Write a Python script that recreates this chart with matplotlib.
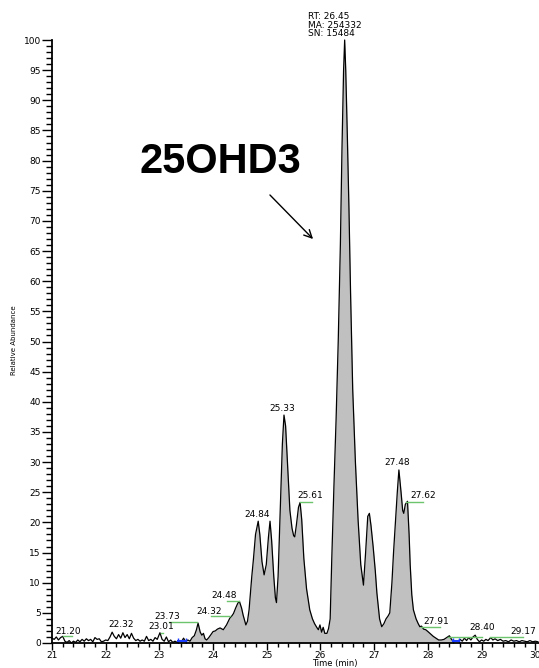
import numpy as np
import matplotlib
matplotlib.use("Agg")
import matplotlib.pyplot as plt
from matplotlib.ticker import MultipleLocator

# --------------------------------------------
# chromatogram trace (time in min, relative abundance in %)
# --------------------------------------------
time_min = [
    21.00, 21.04, 21.08, 21.12, 21.16, 21.20, 21.24, 21.28, 21.32, 21.36,
    21.40, 21.44, 21.48, 21.52, 21.56, 21.60, 21.64, 21.68, 21.72, 21.76,
    21.80, 21.84, 21.88, 21.92, 21.96, 22.00, 22.04, 22.08, 22.12, 22.16,
    22.20, 22.24, 22.28, 22.32, 22.36, 22.40, 22.44, 22.48, 22.52, 22.56,
    22.60, 22.64, 22.68, 22.72, 22.76, 22.80, 22.84, 22.88, 22.92, 22.96,
    23.01, 23.05, 23.09, 23.13, 23.17, 23.21, 23.25, 23.29, 23.33, 23.37,
    23.41, 23.45, 23.49, 23.53, 23.57, 23.61, 23.65, 23.69, 23.72, 23.76,
    23.79, 23.82, 23.85, 23.88, 23.92, 23.96, 24.00, 24.04, 24.08, 24.13,
    24.19, 24.25, 24.31, 24.35, 24.38, 24.42, 24.46, 24.49, 24.53, 24.56,
    24.61, 24.64, 24.67, 24.72, 24.75, 24.79, 24.84, 24.87, 24.91, 24.95,
    24.99, 25.03, 25.06, 25.09, 25.13, 25.16, 25.18, 25.21, 25.25, 25.29,
    25.32, 25.35, 25.39, 25.43, 25.47, 25.50, 25.52, 25.55, 25.59, 25.62,
    25.65, 25.69, 25.74, 25.80, 25.85, 25.89, 25.93, 25.96, 25.99, 26.02,
    26.05, 26.08, 26.12, 26.15, 26.18, 26.21, 26.25, 26.29, 26.33, 26.37,
    26.40, 26.43, 26.45, 26.47, 26.50, 26.53, 26.56, 26.60, 26.65, 26.70,
    26.75, 26.80, 26.84, 26.88, 26.91, 26.94, 26.98, 27.02, 27.05, 27.10,
    27.14, 27.18, 27.22, 27.26, 27.29, 27.33, 27.36, 27.39, 27.43, 27.46,
    27.50, 27.53, 27.55, 27.58, 27.62, 27.65, 27.67, 27.70, 27.73, 27.78,
    27.82, 27.85, 27.88, 27.92, 27.96, 28.00, 28.05, 28.10, 28.15, 28.20,
    28.25, 28.30, 28.35, 28.40, 28.44, 28.48, 28.52, 28.56, 28.60, 28.64,
    28.68, 28.72, 28.76, 28.80, 28.84, 28.88, 28.92, 28.96, 29.00, 29.04,
    29.08, 29.12, 29.17, 29.21, 29.25, 29.30, 29.35, 29.40, 29.45, 29.50,
    29.55, 29.60, 29.65, 29.70, 29.75, 29.80, 29.85, 29.90, 29.95, 30.00,
    30.05,
]
abundance = [
    0.8, 0.6, 1.0, 0.5, 0.9, 1.1, 0.3, 0.1, 0.4, 0.0,
    0.3, 0.1, 0.5, 0.2, 0.6, 0.3, 0.7, 0.4, 0.6, 0.2,
    0.9, 0.6, 0.7, 0.2, 0.3, 0.5, 0.4, 1.0, 1.8, 1.1,
    0.7, 1.4, 0.8, 1.7, 0.9, 1.4, 0.7, 1.6, 0.8, 0.4,
    0.6, 0.3, 0.5, 0.3, 1.1, 0.4, 0.6, 0.3, 0.9, 0.6,
    1.7, 0.6, 0.3, 1.0, 0.2, 0.5, 0.1, 0.3, 0.1, 0.3,
    0.2, 0.8, 0.2, 0.5, 0.3, 0.9, 1.2, 2.2, 3.3, 1.8,
    1.3, 1.6, 0.7, 0.5, 0.9, 1.4, 1.9, 2.0, 2.3, 2.5,
    2.2, 3.0, 4.1, 4.5, 4.9, 5.8, 6.6, 6.9, 5.8, 4.6,
    3.0, 3.6, 5.5, 11.0, 13.8, 18.0, 20.2, 18.0, 13.5, 11.3,
    13.0, 17.5, 20.2, 17.0, 11.0, 7.5, 6.7, 11.0, 22.0, 33.0,
    37.8, 36.0, 29.0, 22.0, 19.0, 17.8, 17.6, 19.5, 22.5, 23.3,
    20.5, 14.0, 9.0, 5.5, 4.0, 3.2, 2.6, 2.2, 3.0, 1.8,
    2.6, 1.6, 1.6, 2.4, 4.0, 14.0, 26.0, 37.0, 50.0, 66.0,
    82.0, 95.0, 100.0, 95.0, 84.0, 72.0, 58.0, 42.0, 30.0, 20.4,
    13.0, 9.6, 15.0, 21.0, 21.5, 19.5, 16.0, 12.0, 8.3, 4.0,
    2.7, 3.2, 4.0, 4.5, 5.0, 10.0, 15.0, 19.3, 25.0, 28.7,
    25.0, 22.0, 21.5, 23.0, 23.5, 18.0, 13.0, 8.0, 5.5, 4.0,
    3.2, 2.7, 2.8, 2.3, 2.2, 1.9, 1.5, 1.1, 0.8, 0.5,
    0.5, 0.6, 0.9, 1.2, 0.6, 0.2, 0.4, 0.3, 0.6, 0.3,
    0.8, 0.4, 0.9, 0.5, 1.0, 1.3, 0.6, 0.2, 0.5, 0.3,
    0.6, 0.4, 0.9, 0.5, 0.7, 0.4, 0.6, 0.3, 0.4, 0.2,
    0.5, 0.3, 0.4, 0.2, 0.4, 0.3, 0.2, 0.4, 0.2, 0.3,
    0.2,
]

# integrated range (grey area)
fill_start, fill_end = 23.50, 28.45

# peak labels: text, x, y (data units)
peak_text = ["21.20", "22.32", "23.01", "23.73", "24.32", "24.48", "24.84",
             "25.33", "25.61", "27.48", "27.62", "27.91", "28.40", "29.17"]
peak_x = [21.31, 22.28, 23.03, 23.15, 23.92, 24.20, 24.82,
          25.29, 25.80, 27.43, 27.91, 28.15, 29.01, 29.77]
peak_y = [1.9, 3.0, 2.7, 4.4, 5.3, 7.9, 21.3,
          38.9, 24.4, 30.0, 24.4, 3.5, 2.6, 1.9]

# green peak markers: start, end, level
green_t0 = [21.20, 23.03, 23.18, 23.97, 24.25, 25.62, 27.60, 27.88, 28.37, 29.16]
green_t1 = [21.37, 23.07, 23.70, 24.31, 24.49, 25.84, 27.91, 28.23, 29.00, 29.77]
green_lv = [1.2, 1.7, 3.5, 4.4, 7.0, 23.4, 23.4, 2.6, 1.0, 1.0]

# blue baseline markers
blue_t0 = [23.35, 28.46]
blue_t1 = [23.50, 28.58]

t = np.array(time_min)
a = np.array(abundance)

fig = plt.figure(figsize=(5.39, 6.68), dpi=100)
# axis box: x 52..539 px, y 40..643 px (100 % at top)
ax = fig.add_axes([52 / 539, 25 / 668, 487 / 539, 603 / 668])

mask = (t >= fill_start) & (t <= fill_end)
ax.fill_between(t, 0, a, where=mask, color="#c0c0c0", linewidth=0, clip_on=False)
ax.plot(t, a, color="black", linewidth=0.9, clip_on=False)

for x0, x1, lv in zip(green_t0, green_t1, green_lv):
    ax.plot([x0, x1], [lv, lv], color="#6cc46c", linewidth=1.0)
for x0, x1 in zip(blue_t0, blue_t1):
    ax.plot([x0, x1], [0.3, 0.3], color="#1a3cff", linewidth=1.5)
    ax.plot([x0, x1], [0.3, 0.3], "|", color="#1a3cff", markersize=4)

for txt, x, y in zip(peak_text, peak_x, peak_y):
    ax.text(x, y, txt, fontsize=6.5, ha="center", va="center", clip_on=False)

ax.set_xlim(21, 21 + 487 / 53.7)
ax.set_ylim(0, 100)

ax.spines["top"].set_visible(False)
ax.spines["right"].set_visible(False)
ax.spines["left"].set_linewidth(1.3)
ax.spines["bottom"].set_linewidth(1.3)

ax.set_yticks(np.arange(0, 101, 5))
ax.yaxis.set_minor_locator(MultipleLocator(1))
ax.xaxis.set_major_locator(MultipleLocator(1))
ax.xaxis.set_minor_locator(MultipleLocator(0.2))
ax.tick_params(axis="y", which="major", length=7, width=1, labelsize=6.5, pad=1)
ax.tick_params(axis="y", which="minor", length=4, width=1)
ax.tick_params(axis="x", which="major", length=5, width=1, labelsize=6.5, pad=1)
ax.tick_params(axis="x", which="minor", length=3, width=1)

fig.text(335 / 539, 1 - 663.5 / 668, "Time (min)", fontsize=6, ha="center", va="center")
fig.text(14 / 539, 1 - 340 / 668, "Relative Abundance", fontsize=5, rotation=90,
         ha="center", va="center")

fig.text(308 / 539, 1 - 25 / 668, "RT: 26.45\nMA: 254332\nSN: 15484", fontsize=6.5,
         ha="left", va="center", linespacing=0.95)

fig.text(220 / 539, 1 - 173 / 668, "25OHD3", fontsize=30, fontweight="bold",
         family="Liberation Sans", ha="center", va="baseline")
ax.annotate("", xy=(21 + (315 - 52) / 53.7, (643 - 241) / 6.03),
            xytext=(21 + (268 - 52) / 53.7, (643 - 193) / 6.03),
            arrowprops=dict(arrowstyle="->", color="black", lw=1.0,
                            mutation_scale=14))

fig.savefig("out.png", dpi=100)
